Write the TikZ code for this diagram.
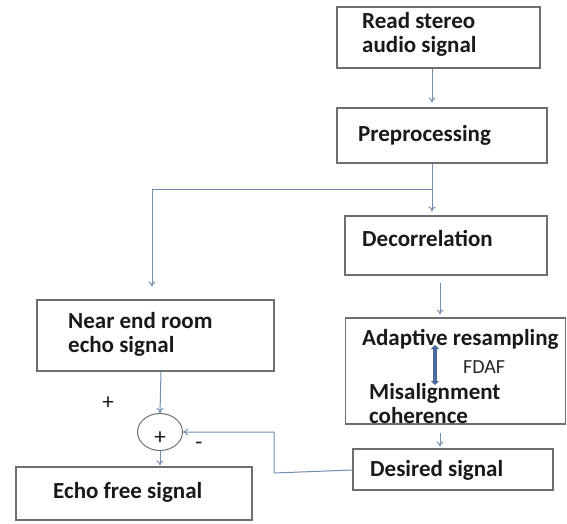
\documentclass[tikz,border=0pt]{standalone}
\usepackage{fontspec}
\setmainfont{Carlito}
\usetikzlibrary{arrows.meta,shapes.geometric}
\definecolor{boxgray}{HTML}{6E6E6E}
\definecolor{conn}{HTML}{6F8FB0}
\definecolor{fdaf}{HTML}{4A6A9E}
\tikzset{
  box/.style={draw=boxgray, line width=1.1pt, rectangle, inner sep=0pt},
  lbl/.style={anchor=west, inner sep=0pt, font=\fontsize{23}{26}\selectfont\bfseries, text=black!90},
  sgn/.style={inner sep=0pt, font=\fontsize{23}{25}\selectfont, text=black!90},
  conn/.style={draw=conn, line width=1pt, -{To[length=5pt,width=7pt]}},
}
\begin{document}
\begin{tikzpicture}[x=1pt,y=-1pt]
\useasboundingbox (0,0) rectangle (567,524);
% boxes
\node[box, minimum width=203pt, minimum height=61pt] (read) at (438.5,37.5) {};
\node[box, minimum width=210pt, minimum height=55pt] (pre) at (442,135.5) {};
\node[box, minimum width=202pt, minimum height=59pt] (dec) at (446,245.5) {};
\node[box, minimum width=220pt, minimum height=106pt] (adp) at (455.5,371) {};
\node[box, minimum width=200pt, minimum height=41pt] (des) at (453,469.5) {};
\node[box, minimum width=237pt, minimum height=71pt] (near) at (155.5,335.5) {};
\node[box, minimum width=236pt, minimum height=53pt] (echo) at (134,493.5) {};
\node[draw=boxgray, line width=1pt, ellipse, minimum width=45pt, minimum height=37pt, inner sep=0pt] (sum) at (160,432) {};
% texts
\node[lbl] (t1) at (362,21) {Read stereo};
\node[lbl] (t2) at (362,46) {audio signal};
\node[lbl] (t3) at (358,135) {Preprocessing};
\node[lbl] (t4) at (362,238) {Decorrelation};
\node[lbl] (t5) at (362,339) {Adaptive resampling};
\node[lbl] (t6) at (369,393) {Misalignment};
\node[lbl] (t7) at (369,416) {coherence};
\node[anchor=west, inner sep=0pt, font=\fontsize{20}{22}\selectfont, text=black!85] (t8) at (463,367) {FDAF};
\node[lbl] (t9) at (370,470) {Desired signal};
\node[lbl] (t10) at (68,321) {Near end room};
\node[lbl] (t11) at (68,346) {echo signal};
\node[lbl] (t12) at (53,492) {Echo free signal};
\node[sgn] (p1) at (108,403) {+};
\node[sgn] (p2) at (160,438) {+};
\node[sgn] (m1) at (199,446) {-};
% connectors
\coordinate (br) at (432,189);
\draw[conn] ([xshift=-6.5pt]read.south) -- ([xshift=-10pt,yshift=5pt]pre.north);
\draw[conn] ([xshift=-10pt]pre.south) -- ([xshift=-14pt,yshift=4pt]dec.north);
\draw[conn] (br) -| ([xshift=-3.5pt,yshift=13pt]near.north);
\draw[conn] ([xshift=-6pt,yshift=-7pt]dec.south) -- ([xshift=-15.5pt,yshift=3pt]adp.north);
\draw[conn] ([xshift=-15.5pt,yshift=-8pt]adp.south) -- ([xshift=-13pt,yshift=2pt]des.north);
\draw[conn] ([xshift=5.5pt]near.south) -- (sum.north);
\draw[conn] (sum.south) -- ([xshift=26pt,yshift=1pt]echo.north);
\draw[conn] ([yshift=-0.5pt]des.west) -- (274,473) -- (274,432) -- (sum.east);
% FDAF double arrow
\coordinate (fa) at (435,345);
\coordinate (fb) at (435,385);
\draw[draw=fdaf, line width=3.5pt, {Triangle[length=4pt,width=8pt]}-{Triangle[length=4pt,width=8pt]}] (fa) -- (fb);
\end{tikzpicture}
\end{document}
